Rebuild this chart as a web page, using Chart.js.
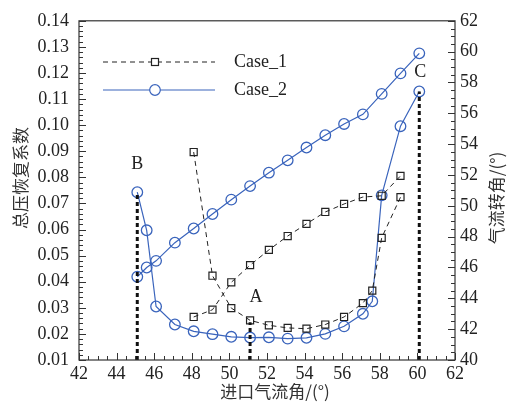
<!DOCTYPE html>
<html>
<head>
<meta charset="utf-8">
<script src="https://cdn.jsdelivr.net/npm/chart.js@4.4.1/dist/chart.umd.min.js"></script>
<style>
  html, body { margin: 0; padding: 0; background: #fff; }
  #wrap { width: 512px; height: 405px; }
</style>
</head>
<body>
<div id="wrap"><canvas id="lossChart" width="512" height="405"></canvas></div>
<script>
// incidence (deg) and results for the two cases
const case1LossX = [48.1, 49.1, 50.1, 51.1, 52.1, 53.1, 54.1, 55.1, 56.1, 57.1, 57.6, 58.1, 59.1];
const case1Loss = [0.0897, 0.0423, 0.0299, 0.0252, 0.0233, 0.0223, 0.0220, 0.0236, 0.0265, 0.0318, 0.0366, 0.0568, 0.0724];
const case1TurnX = [48.1, 49.1, 50.1, 51.1, 52.1, 53.1, 54.1, 55.1, 56.1, 57.1, 58.1, 59.1];
const case1Turn = [42.79, 43.26, 45.04, 46.15, 47.14, 48.04, 48.83, 49.6, 50.12, 50.57, 50.65, 51.94];

const case2LossX = [45.1, 45.6, 46.1, 47.1, 48.1, 49.1, 50.1, 51.1, 52.1, 53.1, 54.1, 55.1, 56.1, 57.1, 57.6, 58.1, 59.1, 60.1];
const case2Loss = [0.0743, 0.0597, 0.0305, 0.0236, 0.0210, 0.0199, 0.0189, 0.0186, 0.0187, 0.0182, 0.0185, 0.0200, 0.0229, 0.0277, 0.0325, 0.0731, 0.0996, 0.1129];
const case2TurnX = [45.1, 45.6, 46.1, 47.1, 48.1, 49.1, 50.1, 51.1, 52.1, 53.1, 54.1, 55.1, 56.1, 57.1, 58.1, 59.1, 60.1];
const case2Turn = [45.40, 46.0, 46.43, 47.61, 48.53, 49.47, 50.40, 51.28, 52.15, 52.95, 53.78, 54.58, 55.31, 55.93, 57.26, 58.59, 59.89];

// operating points B, A, C (x, loss value at the top of the marker line)
const markLabels = ['B', 'A', 'C'];
const markX = [45.1, 51.1, 60.1];
const markTop = [0.0743, 0.0245, 0.1129];

const legendNames = ['Case_1', 'Case_2'];
const axisTitles = { x: '进口气流角/(°)', y: '总压恢复系数', y2: '气流转角/(°)' };

const BLUE = '#3a64bc';
const SERIF = '"Liberation Serif", "DejaVu Serif", serif';
const CJK = '"Noto Sans CJK SC", sans-serif';

function pts(xs, ys) {
    return xs.map((x, i) => ({ x: x, y: ys[i] }));
}

const case1Style = {
    borderColor: '#222', borderWidth: 1, borderDash: [5, 4],
    pointStyle: 'rect', pointRadius: 5, pointBorderColor: '#222',
    pointBackgroundColor: 'rgba(255,255,255,0)', pointBorderWidth: 1.2
};
const case2Style = {
    borderColor: BLUE, borderWidth: 1.2,
    pointStyle: 'circle', pointRadius: 5.3, pointBorderColor: BLUE,
    pointBackgroundColor: 'rgba(255,255,255,0)', pointBorderWidth: 1.3
};

const datasets = [];
// vertical markers first so the curves sit on top
markX.forEach((x, i) => {
    datasets.push({
        label: markLabels[i], data: [{ x: x, y: 0.01 }, { x: x, y: markTop[i] }],
        yAxisID: 'y', borderColor: '#111', borderWidth: 3, borderDash: [4, 3],
        pointRadius: 0, fill: false
    });
});
datasets.push(Object.assign({ label: 'Case_1 loss', data: pts(case1LossX, case1Loss), yAxisID: 'y' }, case1Style));
datasets.push(Object.assign({ label: 'Case_1 turn', data: pts(case1TurnX, case1Turn), yAxisID: 'y2' }, case1Style));
datasets.push(Object.assign({ label: 'Case_2 loss', data: pts(case2LossX, case2Loss), yAxisID: 'y' }, case2Style));
datasets.push(Object.assign({ label: 'Case_2 turn', data: pts(case2TurnX, case2Turn), yAxisID: 'y2' }, case2Style));

// frame, inward ticks, axis titles, A/B/C labels and the legend
const decorations = {
    id: 'decorations',
    afterDatasetsDraw(chart) {
        const ctx = chart.ctx;
        const a = chart.chartArea;
        const sx = chart.scales.x, sy = chart.scales.y, sy2 = chart.scales.y2;
        ctx.save();
        ctx.strokeStyle = '#333';
        ctx.lineWidth = 1.2;
        ctx.setLineDash([]);
        ctx.strokeRect(a.left, a.top, a.right - a.left, a.bottom - a.top);

        ctx.lineWidth = 1;
        ctx.beginPath();
        for (let i = 0; i <= 40; i++) {
            const v = 42 + i * 0.5;
            const px = Math.round(sx.getPixelForValue(v)) + 0.5;
            const len = i % 4 === 0 ? 7 : 4;
            ctx.moveTo(px, a.bottom); ctx.lineTo(px, a.bottom - len);
        }
        for (let i = 0; i <= 65; i++) {
            const v = 0.01 + i * 0.002;
            const py = Math.round(sy.getPixelForValue(v)) + 0.5;
            const len = i % 5 === 0 ? 7 : 4;
            ctx.moveTo(a.left, py); ctx.lineTo(a.left + len, py);
        }
        for (let i = 0; i <= 44; i++) {
            const v = 40 + i * 0.5;
            const py = Math.round(sy2.getPixelForValue(v)) + 0.5;
            const len = i % 4 === 0 ? 7 : 4;
            ctx.moveTo(a.right, py); ctx.lineTo(a.right - len, py);
        }
        ctx.stroke();

        // axis titles, both side titles read bottom to top
        ctx.fillStyle = '#333';
        ctx.font = '17px ' + CJK;
        ctx.textAlign = 'center';
        ctx.textBaseline = 'middle';
        ctx.fillText(axisTitles.x, 275, 392);
        ctx.save();
        ctx.translate(21, 178);
        ctx.rotate(-Math.PI / 2);
        ctx.fillText(axisTitles.y, 0, 0);
        ctx.restore();
        ctx.save();
        ctx.translate(497, 198);
        ctx.rotate(-Math.PI / 2);
        ctx.fillText(axisTitles.y2, 0, 0);
        ctx.restore();

        ctx.fillStyle = '#222';
        ctx.font = '18px ' + SERIF;
        const offs = [[0, -28], [6, -25], [1, -19]];
        markLabels.forEach((t, i) => {
            ctx.fillText(t, sx.getPixelForValue(markX[i]) + offs[i][0], sy.getPixelForValue(markTop[i]) + offs[i][1]);
        });

        // legend
        const lx0 = 103, lx1 = 215, mx = 155;
        const rows = [62, 90];
        ctx.lineWidth = 1;
        ctx.strokeStyle = '#222';
        ctx.setLineDash([5, 4]);
        ctx.beginPath(); ctx.moveTo(lx0, rows[0]); ctx.lineTo(lx1, rows[0]); ctx.stroke();
        ctx.setLineDash([]);
        ctx.fillStyle = '#fff';
        ctx.fillRect(mx - 3.5, rows[0] - 3.5, 7, 7);
        ctx.lineWidth = 1.2;
        ctx.strokeRect(mx - 3.5, rows[0] - 3.5, 7, 7);
        ctx.strokeStyle = BLUE;
        ctx.beginPath(); ctx.moveTo(lx0, rows[1]); ctx.lineTo(lx1, rows[1]); ctx.stroke();
        ctx.beginPath(); ctx.arc(mx, rows[1], 5.3, 0, Math.PI * 2);
        ctx.fill(); ctx.stroke();
        ctx.fillStyle = '#222';
        ctx.textAlign = 'left';
        legendNames.forEach((t, i) => ctx.fillText(t, 234, rows[i]));
        ctx.restore();
    }
};

new Chart(document.getElementById('lossChart').getContext('2d'), {
    type: 'line',
    data: { datasets: datasets },
    options: {
        responsive: false,
        animation: false,
        layout: { padding: { top: 18, right: 0, left: 0, bottom: 0 } },
        plugins: { legend: { display: false }, tooltip: { enabled: false } },
        scales: {
            x: {
                type: 'linear', min: 42, max: 62,
                grid: { display: false, drawTicks: false },
                border: { display: false },
                ticks: { stepSize: 2, padding: 3, color: '#222', font: { family: SERIF, size: 18 }, maxRotation: 0 },
                afterFit(s) { s.height = 45; }
            },
            y: {
                type: 'linear', position: 'left', min: 0.01, max: 0.14,
                grid: { display: false, drawTicks: false },
                border: { display: false },
                ticks: { stepSize: 0.01, padding: 10, color: '#222', font: { family: SERIF, size: 18 },
                         callback: v => v.toFixed(2) },
                afterFit(s) { s.width = 79; }
            },
            y2: {
                type: 'linear', position: 'right', min: 40, max: 62,
                grid: { display: false, drawTicks: false },
                border: { display: false },
                ticks: { stepSize: 2, padding: 5, color: '#222', font: { family: SERIF, size: 18 } },
                afterFit(s) { s.width = 57; }
            }
        }
    },
    plugins: [decorations]
});
</script>
</body>
</html>
